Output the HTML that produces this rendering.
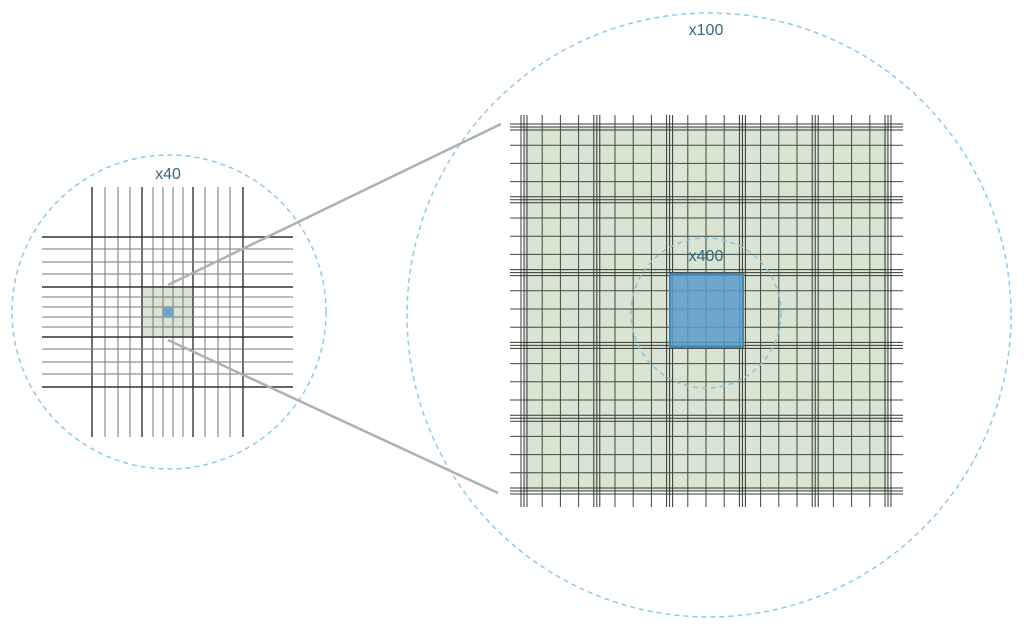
<!DOCTYPE html>
<html><head><meta charset="utf-8"><style>
html,body{margin:0;padding:0;background:#fff;}
svg{display:block}
text{font-family:"Liberation Sans",sans-serif;font-size:16px;fill:#2f6a85;}
</style></head><body>
<svg id="s" width="1024" height="628" viewBox="0 0 1024 628" xmlns="http://www.w3.org/2000/svg">
<circle cx="169" cy="312" r="157" fill="none" stroke="#8ccbea" stroke-width="1.5" stroke-dasharray="5,4"/>
<circle cx="709" cy="315" r="302" fill="none" stroke="#8ccbea" stroke-width="1.5" stroke-dasharray="5,4"/>
<text x="168" y="179" text-anchor="middle">x40</text>
<text x="706" y="35" text-anchor="middle">x100</text>
<g id="L"></g>
<g id="R"></g>
<line x1="168" y1="285" x2="501" y2="124" stroke="#b0b0b0" stroke-width="2.5"/>
<line x1="168" y1="340" x2="498" y2="493" stroke="#b0b0b0" stroke-width="2.5"/>
</svg>
<script>
var NS="http://www.w3.org/2000/svg";
function el(p,t,a){var e=document.createElementNS(NS,t);for(var k in a)e.setAttribute(k,a[k]);p.appendChild(e);return e;}
function ln(p,x1,y1,x2,y2,c,w){el(p,"line",{x1:x1,y1:y1,x2:x2,y2:y2,stroke:c,"stroke-width":w});}
var L=document.getElementById("L");
el(L,"rect",{x:142,y:287,width:51,height:50,fill:"#d9e4d3"});
var vx=[92,105,118,130,142,153,163,173,183,193,205,218,230,243];
var thick=[92,142,193,243];
vx.forEach(function(x){var t=thick.indexOf(x)>=0;ln(L,x,187,x,437,t?"#333":"#777",t?1.4:1);});
var hy=[237,249,262,274,287,297,307,317,327,337,349,362,374,387];
var th=[237,287,337,387];
hy.forEach(function(y){var t=th.indexOf(y)>=0;ln(L,42,y,293,y,t?"#333":"#777",t?1.4:1);});
el(L,"rect",{x:163,y:307,width:10,height:10,fill:"#6fa3c7"});
var R=document.getElementById("R");
var x0=524,y0=127,g=72.8,c=g/4;
el(R,"rect",{x:x0,y:y0,width:5*g,height:5*g,fill:"#d9e4d3"});
for(var i=0;i<=20;i++){
  var x=x0+i*c,y=y0+i*c;
  if(i%4==0){
    [-3,0,3].forEach(function(d){
      ln(R,x+d,115,x+d,507,"#333833",1);
      ln(R,510,y+d,903,y+d,"#333833",1);
    });
  } else {
    ln(R,x,115,x,507,"#3f4a40",1);
    ln(R,510,y,903,y,"#3f4a40",1);
  }
}
el(R,"rect",{x:670,y:274,width:73,height:73,fill:"#5a9ccd","fill-opacity":"0.85",stroke:"#3f86bd","stroke-width":2});
el(R,"circle",{cx:706,cy:313,r:75,fill:"none",stroke:"#8cc3d8","stroke-width":1.5,"stroke-dasharray":"5,4"});
var t=el(R,"text",{x:706,y:261,"text-anchor":"middle"});t.textContent="x400";
</script>
</body></html>
